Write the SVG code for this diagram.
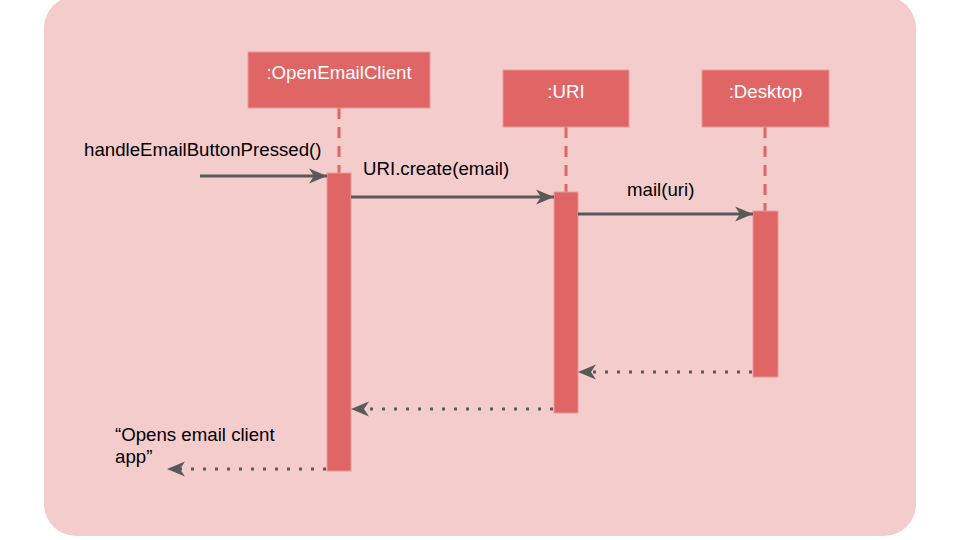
<svg xmlns="http://www.w3.org/2000/svg" width="960" height="540" viewBox="0 0 960 540">
<style>
.box{fill:#E06666;stroke:#EA9999;stroke-width:1}
.act{fill:#E06666;stroke:#EA9999;stroke-width:1}
.life{stroke:#E06666;stroke-width:3;stroke-dasharray:11 8;fill:none}
.msg{stroke:#595959;stroke-width:3;fill:none}
.ret{stroke:#595959;stroke-width:3;stroke-dasharray:3 9;fill:none}
.t{font-family:"Liberation Sans",Arial,sans-serif;font-size:18.67px;fill:#000}
.w{font-family:"Liberation Sans",Arial,sans-serif;font-size:18.67px;fill:#fff;text-anchor:middle}
</style>
<defs>
<marker id="ah" markerUnits="userSpaceOnUse" viewBox="-20 -9 22 18" refX="0" refY="0" markerWidth="22" markerHeight="18" orient="auto">
<path d="M0,0 L-18,-7.5 L-13,0 L-18,7.5 Z" fill="#595959"/>
</marker>
</defs>
<rect x="44" y="-4" width="872" height="540" rx="32" fill="#F4CCCC"/>
<g id="lifelines">
<line class="life" x1="339" y1="108" x2="339" y2="173"/>
<line class="life" x1="566" y1="127" x2="566" y2="192"/>
<line class="life" x1="765" y1="127" x2="765" y2="211"/>
</g>
<g id="node-openemailclient">
<rect class="box" x="248" y="52" width="182" height="56"/>
<text class="w" x="339" y="79">:OpenEmailClient</text>
<rect class="act" x="327" y="173" width="24" height="298"/>
</g>
<g id="node-uri">
<rect class="box" x="503" y="70" width="126" height="57"/>
<text class="w" x="566" y="98">:URI</text>
<rect class="act" x="554" y="192" width="24" height="221"/>
</g>
<g id="node-desktop">
<rect class="box" x="702" y="70" width="127" height="57"/>
<text class="w" x="765.5" y="98">:Desktop</text>
<rect class="act" x="753" y="211" width="25" height="166"/>
</g>
<g id="connectors">
<line class="msg" x1="200" y1="176" x2="327" y2="176" marker-end="url(#ah)"/>
<line class="msg" x1="351" y1="197" x2="554" y2="197" marker-end="url(#ah)"/>
<line class="msg" x1="578" y1="214" x2="753" y2="214" marker-end="url(#ah)"/>
<line class="ret" x1="752" y1="372" x2="584" y2="372"/>
<path d="M578,372 L596,364.5 L591,372 L596,379.5 Z" fill="#595959"/>
<line class="ret" x1="553" y1="409" x2="357" y2="409"/>
<path d="M351,409 L369,401.5 L364,409 L369,416.5 Z" fill="#595959"/>
<line class="ret" x1="326" y1="469" x2="173" y2="469"/>
<path d="M167,469 L185,461.5 L180,469 L185,476.5 Z" fill="#595959"/>
</g>
<g id="labels">
<text class="t" x="84" y="156">handleEmailButtonPressed()</text>
<text class="t" x="363" y="175">URI.create(email)</text>
<text class="t" x="627" y="196">mail(uri)</text>
<text class="t" x="115" y="441">“Opens email client</text>
<text class="t" x="115" y="463">app”</text>
</g>
</svg>
